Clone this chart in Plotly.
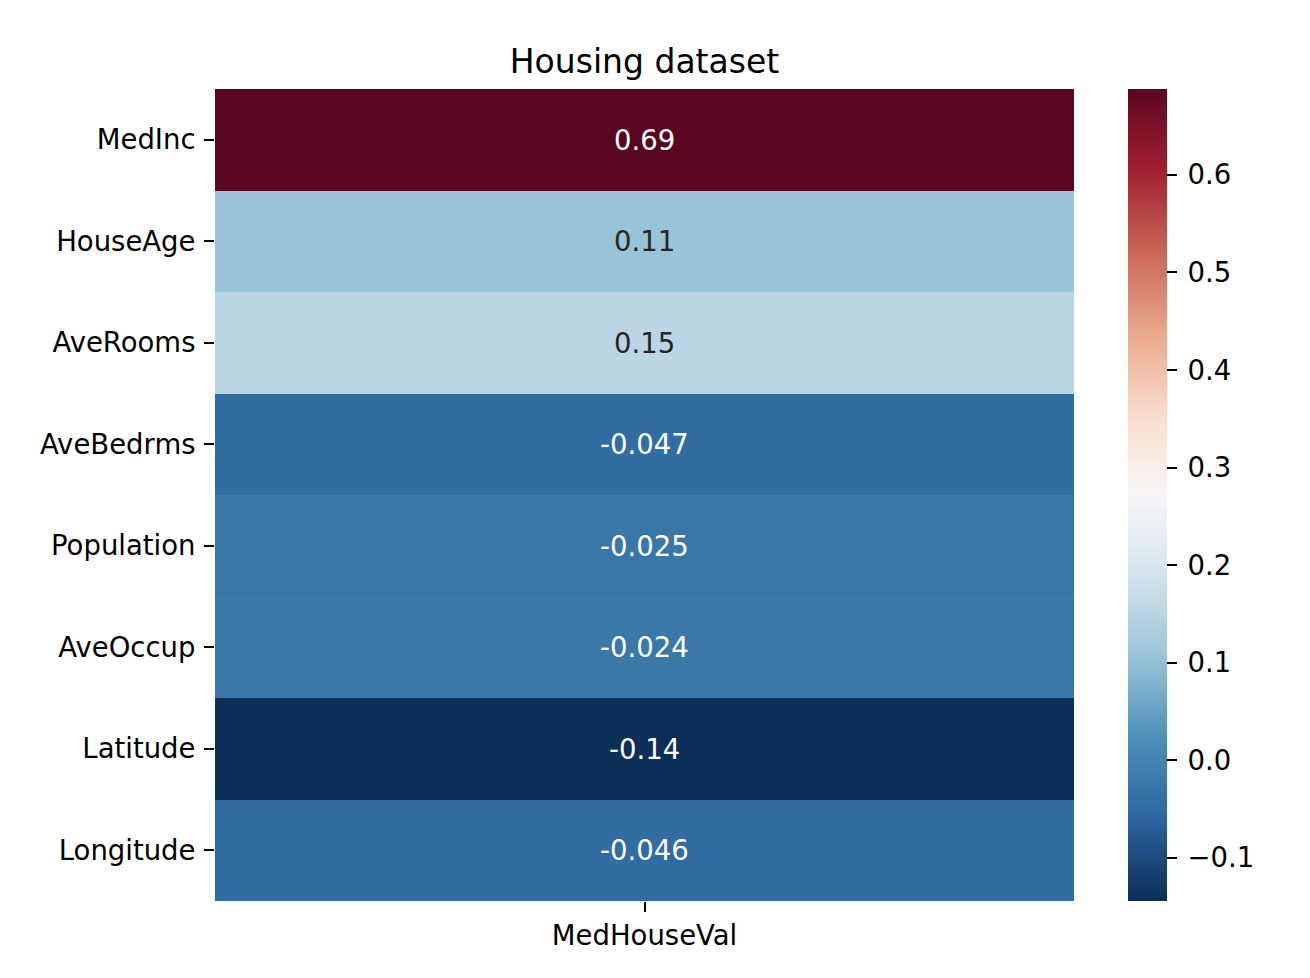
import plotly.graph_objects as go

features = ["MedInc", "HouseAge", "AveRooms", "AveBedrms", "Population",
            "AveOccup", "Latitude", "Longitude"]
target = "MedHouseVal"
corr = [0.688, 0.1056, 0.1519, -0.0467, -0.0246, -0.0237, -0.1442, -0.0460]
labels = ["0.69", "0.11", "0.15", "-0.047", "-0.025", "-0.024", "-0.14", "-0.046"]
text_colors = ["white", "#262626", "#262626", "white", "white", "white", "white", "white"]

rdbu_r = ["#053061", "#2166ac", "#4393c3", "#92c5de", "#d1e5f0", "#f7f7f7",
          "#fddbc7", "#f4a582", "#d6604d", "#b2182b", "#67001f"]


def soften(hexc, k=0.17):
    r, g, b = int(hexc[1:3], 16), int(hexc[3:5], 16), int(hexc[5:7], 16)
    lum = 0.299 * r + 0.587 * g + 0.114 * b
    r, g, b = (round(c + (lum - c) * k) for c in (r, g, b))
    return f"rgb({r},{g},{b})"


colorscale = [[i / (len(rdbu_r) - 1), soften(c)] for i, c in enumerate(rdbu_r)]

W, H = 1310, 978
OFF = 8  # page body margin offset
L, R, T, B = 215 - OFF, 1310 - 1074 + OFF, 89 - OFF, 978 - 901 + OFF
plot_w = W - L - R

font = "DejaVu Sans"
fs = 27.5

fig = go.Figure()
fig.add_trace(go.Heatmap(
    z=[[v] for v in corr],
    x=[target],
    y=features,
    zmin=min(corr), zmax=max(corr),
    colorscale=colorscale,
    hoverinfo="skip",
    colorbar=dict(
        x=(1128 - 215) / plot_w, xanchor="left", xpad=0,
        y=0.5, yanchor="middle", ypad=0,
        len=1, lenmode="fraction",
        thickness=39, thicknessmode="pixels",
        outlinewidth=0,
        tick0=0, dtick=0.1, tickformat=".1f", tickprefix="\u2009",
        ticks="outside", ticklen=10, tickwidth=2, tickcolor="black",
        tickfont=dict(family=font, size=fs, color="black"),
    ),
))

for f, lab, col in zip(features, labels, text_colors):
    fig.add_annotation(x=target, y=f, text=lab, showarrow=False,
                       font=dict(family=font, size=fs, color=col))

fig.update_layout(
    width=W, height=H,
    margin=dict(l=L, r=R, t=T, b=B),
    paper_bgcolor="white", plot_bgcolor="white",
    title=dict(text="Housing dataset", x=0.5, xref="paper", xanchor="center",
               y=1 - (61 - OFF) / H, yref="container", yanchor="middle",
               font=dict(family=font, size=33, color="black")),
    xaxis=dict(showgrid=False, zeroline=False, showline=False,
               ticks="outside", ticklen=10, tickwidth=2, tickcolor="black",
               tickfont=dict(family=font, size=fs, color="black")),
    yaxis=dict(showgrid=False, zeroline=False, showline=False, autorange="reversed",
               ticks="outside", ticklen=10, tickwidth=2, tickcolor="black",
               ticklabelstandoff=3,
               tickfont=dict(family=font, size=fs, color="black")),
)

fig.write_html("out.html")
